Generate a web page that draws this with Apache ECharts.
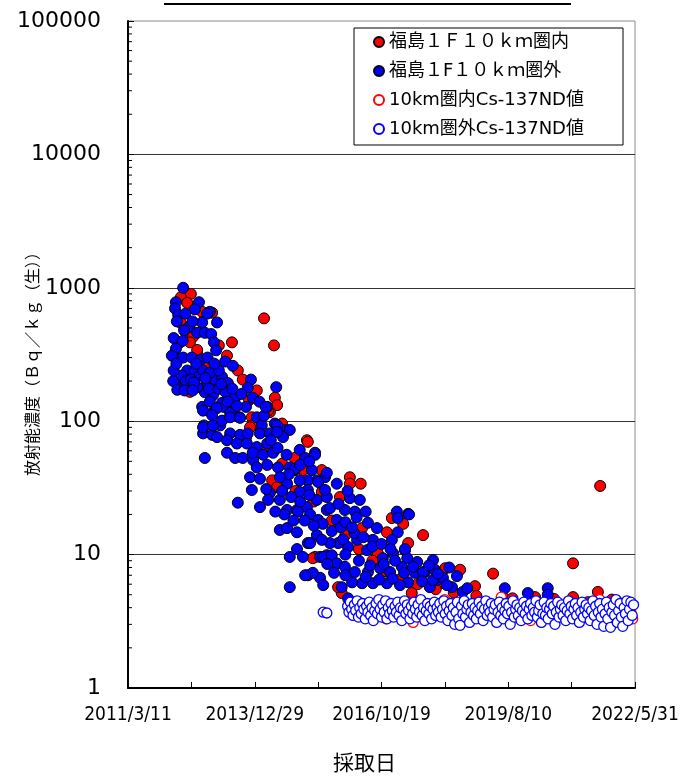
<!DOCTYPE html>
<html>
<head>
<meta charset="utf-8">
<script src="https://cdn.jsdelivr.net/npm/echarts@6/dist/echarts.min.js"></script>
<style>
  html, body { margin: 0; padding: 0; background: #fff; }
  #chart { width: 683px; height: 776px; }
</style>
</head>
<body>
<div id="chart"></div>
<script>
// Sample date as decimal year, concentration in Bq/kg (fresh weight)

// 福島１Ｆ１０ｋｍ圏内 (detected)
const inside10km = [
  [2012.58,900],[2012.36,850],[2012.50,770],[2012.83,660],[2013.05,650],[2012.36,545],[2014.20,590],
  [2014.42,370],[2012.50,460],[2012.63,430],[2013.49,390],[2013.20,370],[2012.56,390],[2013.38,310],
  [2012.74,310],[2012.72,342],[2012.94,255],[2013.62,240],[2013.73,205],[2014.04,170],[2012.52,187],
  [2012.56,166],[2013.87,144],[2014.44,150],[2014.49,132],[2013.93,107],[2014.33,117],[2014.29,120],
  [2013.93,93],[2013.89,90],[2014.60,96],[2015.15,72],[2014.88,53],[2015.06,43],[2015.48,43],
  [2014.38,36],[2014.49,32],[2015.48,29.5],[2015.17,70],[2016.10,38],[2016.34,34],[2016.10,34],
  [2015.88,27],[2017.03,18.8],[2017.28,17],[2016.37,15.8],[2016.92,14.7],[2017.72,14],[2017.39,12.2],
  [2016.72,10.2],[2015.33,9.6],[2015.28,9.4],[2015.92,5.15],[2015.84,5.7],[2017.47,5.15],[2018.09,6.1],
  [2018.21,7.9],[2018.54,7.7],[2018.87,5.8],[2019.27,7.2],[2019.49,4.8],[2020.62,4.65],[2021.04,8.6],
  [2021.04,4.8],[2021.37,4.4],[2021.59,5.25],[2021.64,32.7],[2021.90,4.6],
  [2013.10,200],[2013.50,120],[2013.80,75],[2014.20,60],[2014.60,48],[2014.90,30],[2015.30,25],
  [2015.70,18],[2016.00,14],[2016.30,11],[2016.60,9],[2016.90,7.5],[2017.20,6.5],[2017.60,6],
  [2018.00,5.5],[2018.40,5.2],[2018.90,4.9],[2019.70,4.7],[2020.20,4.8],[2022.00,4.5]
];

// 福島１F１０ｋｍ圏外 (detected)
const outside10km = [
  [2012.41,1000],[2012.25,780],[2012.76,780],[2012.23,700],[2012.67,690],[2013.00,660],[2012.30,625],
  [2012.94,640],[2012.83,550],[2013.16,550],[2012.54,510],[2012.43,480],[2012.72,460],[2012.89,460],
  [2013.03,450],[2013.09,390],[2012.32,385],[2012.25,350],[2013.14,340],[2012.23,300],[2012.41,300],
  [2012.60,300],[2012.80,290],[2013.34,280],[2012.50,240],[2012.67,240],[2013.51,260],[2013.91,205],
  [2014.47,180],[2013.84,178],[2012.30,205],[2012.34,178],[2012.78,220],[2012.94,193],[2013.12,205],
  [2013.27,215],[2013.40,193],[2012.89,165],[2012.72,180],[2013.07,157],[2013.27,137],[2013.56,150],
  [2013.80,128],[2013.31,128],[2012.83,128],[2014.27,128],[2013.05,115],[2013.45,115],[2013.65,107],
  [2014.04,107],[2012.87,93],[2013.07,92],[2013.23,93],[2014.15,93],[2014.44,96],[2013.45,81],
  [2013.67,79],[2013.84,81],[2014.11,81],[2014.33,81],[2014.66,86],[2012.85,81],[2013.05,79],
  [2012.16,310],[2012.19,200],[2012.28,172],[2012.38,220],[2012.47,200],[2012.58,205],[2012.65,195],
  [2012.85,240],[2013.00,230],[2013.20,240],[2012.98,175],[2013.20,175],[2013.35,165],[2013.50,175],
  [2013.00,140],[2013.15,125],[2013.40,140],[2013.60,130],[2013.70,160],[2013.95,150],[2014.10,140],
  [2014.20,110],
  [2012.85,120],[2013.05,111],[2012.85,90],[2013.07,93],[2013.27,101],[2013.45,107],[2013.67,106],
  [2014.24,128],[2014.49,93],[2014.77,86],[2014.62,76],[2014.49,83],[2012.89,53],[2013.16,76],
  [2013.38,72],[2013.60,68],[2013.82,68],[2014.04,64],[2014.27,68],[2013.38,58],[2013.56,53],
  [2013.73,53],[2013.96,51],[2014.18,56],[2014.40,58],[2014.51,45],[2014.27,47],[2014.04,45],
  [2013.89,38],[2014.11,37],[2014.99,61],[2015.11,53],[2015.33,58],[2014.77,45],[2014.88,43],
  [2015.26,43],[2015.55,38],[2015.37,36],[2015.17,36],[2014.99,36],[2014.71,34],[2014.33,29],
  [2013.93,30.5],[2013.62,24.5],[2014.11,22.7],[2014.29,25.7],[2014.55,25.7],[2014.71,21.6],
  [2014.93,21.6],[2015.15,22.7],[2015.37,25.7],[2015.59,27],[2015.59,21.6],[2014.55,15.3],
  [2014.71,15.8],[2014.93,14.7],[2015.17,12.2],[2015.37,14],[2014.93,11],[2014.77,9.6],[2015.06,9.6],
  [2015.44,9.6],[2015.59,9.9],[2014.77,5.7],[2015.17,7.0],[2015.44,6.7],
  [2015.33,56],[2014.88,44],[2015.59,41],[2015.81,34],[2015.40,35],[2015.17,30.5],[2015.55,30.5],
  [2014.99,29.5],[2016.10,26.5],[2016.32,25.7],[2015.66,22.3],[2015.99,21.6],[2016.21,21],
  [2014.95,21],[2015.22,20],[2015.40,18.2],[2015.81,18.2],[2017.14,21],[2017.39,20.2],[2017.16,18.8],
  [2016.50,17.3],[2016.70,15.8],[2017.16,14.7],[2016.26,12.9],[2016.61,12.9],[2017.03,12.9],
  [2017.32,10.8],[2017.94,9.1],[2017.59,8.8],[2017.37,9.4],[2017.06,10.2],[2016.83,9.4],[2016.48,10.8],
  [2016.06,11.4],[2015.84,12.2],[2015.66,12.2],[2015.48,12.9],[2015.22,12.2],[2015.51,9.6],
  [2015.70,9.9],[2015.81,8.6],[2015.99,8.1],[2016.21,7.4],[2016.50,7.4],[2016.77,7.9],[2016.99,7.4],
  [2017.25,8.1],[2017.54,7.3],[2017.76,7.4],[2017.98,7.7],[2017.39,6.2],[2016.92,6.1],[2016.61,6.1],
  [2016.37,6.1],[2016.15,6.2],[2015.92,5.7],[2015.51,5.9],[2015.28,7.3],[2015.11,7.0],[2017.87,5.7],
  [2018.03,6.45],
  [2017.41,20],[2017.32,11],[2018.47,6.9],[2018.16,6.7],[2018.36,5.7],[2018.60,5.25],[2019.53,5.6],
  [2020.04,5.15],[2020.48,5.6],[2020.48,5.0],[2017.21,5.9],[2017.50,8.1],[2017.72,7.4],[2017.94,6.45],
  [2016.06,4.7],
  [2015.70,15],[2015.90,16],[2016.00,17.5],[2016.20,14.5],[2016.40,13.5],[2016.60,11.5],[2016.80,12],
  [2017.00,11],[2016.00,10],[2016.30,9],[2016.55,8.3],[2016.85,8.5],[2017.10,9],[2017.30,7.3],
  [2017.70,6.3],[2017.05,6.6],[2016.75,6.5],[2016.45,6.8],[2016.00,7],[2015.75,7.3],[2015.60,8.5],
  [2015.95,13],[2016.15,16],[2015.85,24],[2016.05,30],[2016.25,19],[2016.45,21],[2015.50,17],
  [2015.30,16.5],[2015.10,18],[2014.85,18],[2014.65,20],[2014.45,21],[2014.25,31],[2014.60,30],
  [2014.80,27],[2015.00,25],[2015.20,28],[2015.00,47],[2015.20,50],[2014.70,56],[2014.50,63],
  [2014.35,72],[2013.95,58],[2014.75,40],[2014.55,38],
  [2017.85,8.3],[2018.05,7.2],[2018.25,5.9],[2018.70,5.6],[2018.30,8.0],
  [2012.20,420],[2012.27,560],[2012.46,640],[2012.62,560],[2012.40,400],[2012.20,240],[2012.26,270],
  [2012.44,170],[2012.62,170],[2012.70,270],[2012.95,300],[2013.10,270],[2013.25,190],[2012.90,210]
];

// 10km圏内Cs-137ND値 (detection limit, not detected)
const insideND = [
  [2016.30,4.4],[2016.90,3.3],[2017.50,3.1],[2018.20,4.6],[2018.54,3.0],[2019.45,4.8],[2020.10,3.2],
  [2020.60,3.2],[2021.63,4.6],[2021.95,3.1],[2022.32,3.7],[2022.36,3.3]
];

// 10km圏外Cs-137ND値 (detection limit, not detected)
const outsideND = [
  [2015.51,3.7],[2015.59,3.65],
  [2016.05,4.1],[2016.08,3.7],[2016.11,4.4],[2016.14,3.9],[2016.17,3.5],[2016.20,4.2],[2016.23,3.8],
  [2016.26,4.5],[2016.29,3.4],[2016.32,4.0],[2016.35,3.6],[2016.38,4.3],[2016.41,3.9],[2016.44,3.3],
  [2016.47,4.1],[2016.50,3.7],[2016.53,4.4],[2016.56,3.5],[2016.59,4.0],[2016.62,3.2],[2016.65,3.8],
  [2016.68,4.3],[2016.71,3.6],[2016.74,4.6],[2016.77,3.9],[2016.80,3.4],[2016.83,4.2],[2016.86,3.7],
  [2016.89,4.5],[2016.92,3.3],[2016.95,4.0],[2016.98,3.6],[2017.01,4.3],[2017.04,3.8],[2017.07,3.4],
  [2017.10,4.1],[2017.13,3.7],[2017.16,4.4],[2017.19,3.5],[2017.22,4.0],[2017.25,3.2],[2017.28,3.9],
  [2017.31,4.5],[2017.34,3.6],[2017.37,4.2],[2017.40,3.8],[2017.43,3.3],[2017.46,4.1],[2017.49,3.6],
  [2017.52,4.4],[2017.55,3.9],[2017.58,3.4],[2017.61,4.2],[2017.64,3.7],[2017.67,4.6],[2017.70,3.5],
  [2017.73,4.0],[2017.76,3.2],[2017.79,3.8],[2017.82,4.3],[2017.85,3.6],[2017.88,4.1],[2017.91,3.3],
  [2017.94,3.9],[2017.97,4.4],[2018.00,3.5],[2018.03,4.0],[2018.06,3.7],[2018.09,4.3],[2018.12,3.4],
  [2018.15,3.9],[2018.18,4.5],[2018.21,3.6],[2018.24,4.1],[2018.27,3.2],[2018.30,3.8],[2018.33,4.3],
  [2018.36,3.5],[2018.39,4.0],[2018.42,3.0],[2018.45,3.7],[2018.48,4.4],[2018.51,3.3],[2018.54,2.95],
  [2018.57,4.1],[2018.60,3.6],[2018.63,4.5],[2018.66,3.4],[2018.69,3.9],[2018.72,4.2],[2018.75,3.1],
  [2018.78,3.7],[2018.81,4.3],[2018.84,3.5],[2018.87,4.0],[2018.90,3.3],[2018.93,3.8],[2018.96,4.4],
  [2018.99,3.6],[2019.02,4.1],[2019.05,3.2],[2019.08,3.9],[2019.11,4.5],[2019.14,3.5],[2019.17,4.0],
  [2019.20,3.7],[2019.23,4.3],[2019.26,3.4],[2019.29,3.9],[2019.32,4.2],[2019.35,3.1],[2019.38,3.7],
  [2019.41,4.4],[2019.44,3.5],[2019.47,4.0],[2019.50,3.3],[2019.53,3.8],[2019.56,4.3],[2019.59,3.6],
  [2019.62,4.1],[2019.65,3.0],[2019.68,3.7],[2019.71,4.5],[2019.74,3.4],[2019.77,3.9],[2019.80,4.2],
  [2019.83,3.5],[2019.86,4.0],[2019.89,3.2],[2019.92,3.8],[2019.95,4.4],[2019.98,3.6],[2020.01,4.1],
  [2020.04,3.3],[2020.07,3.9],[2020.10,4.3],[2020.13,3.5],[2020.16,4.0],[2020.19,3.7],[2020.22,4.5],
  [2020.25,3.4],[2020.28,3.8],[2020.31,4.2],[2020.34,3.1],[2020.37,3.6],[2020.40,4.4],[2020.43,3.5],
  [2020.46,4.0],[2020.49,3.3],[2020.52,3.9],[2020.55,4.3],[2020.58,3.6],[2020.61,4.1],[2020.64,3.0],
  [2020.67,3.7],[2020.70,4.4],[2020.73,3.4],[2020.76,3.9],[2020.79,4.2],[2020.82,3.5],[2020.85,4.0],
  [2020.88,3.2],[2020.91,3.8],[2020.94,4.5],[2020.97,3.6],[2021.00,4.1],[2021.03,3.3],[2021.06,3.9],
  [2021.09,4.3],[2021.12,3.5],[2021.15,4.0],[2021.18,3.1],[2021.21,3.7],[2021.24,4.4],[2021.27,3.4],
  [2021.30,3.9],[2021.33,4.2],[2021.36,3.6],[2021.39,4.0],[2021.42,3.2],[2021.45,3.8],[2021.48,4.5],
  [2021.51,3.5],[2021.54,4.1],[2021.57,3.0],[2021.60,3.7],[2021.63,4.3],[2021.66,3.4],[2021.69,3.9],
  [2021.72,2.9],[2021.75,3.6],[2021.78,4.4],[2021.81,3.3],[2021.84,4.0],[2021.87,2.85],[2021.90,3.7],
  [2021.93,4.2],[2021.96,3.5],[2021.99,4.6],[2022.02,3.1],[2022.05,3.8],[2022.08,4.3],[2022.11,3.4],
  [2022.14,2.9],[2022.17,4.0],[2022.20,3.6],[2022.23,4.5],[2022.26,3.2],[2022.29,3.9],[2022.32,4.4],
  [2022.35,3.5],[2022.38,4.2]
];

// Date axis: 2011/3/11 .. 2022/5/31, split into four equal steps
const xTickLabels = ['2011/3/11', '2013/12/29', '2016/10/19', '2019/8/10', '2022/5/31'];
const AXIS_START_YEAR = 2011.189;   // 2011/3/11 as decimal year
const AXIS_SPAN_DAYS = 4099;        // days from 2011/3/11 to 2022/5/31
const TICK_STEP = AXIS_SPAN_DAYS / 4;

const seriesNames = ['福島１Ｆ１０ｋｍ圏内', '福島１F１０ｋｍ圏外', '10km圏内Cs-137ND値', '10km圏外Cs-137ND値'];

// day offset from the axis start
function toAxis(points) {
  return points.map(p => [(p[0] - AXIS_START_YEAR) * 365.25, p[1]]);
}

// minor ticks of the log axis at 2..9 of each decade
const minorTickValues = [];
for (let d = 1; d < 100000; d *= 10) {
  for (let k = 2; k <= 9; k++) minorTickValues.push(k * d);
}

const chart = echarts.init(document.getElementById('chart'));

const filledStyle = (color) => ({ color: color, borderColor: '#000', borderWidth: 1, opacity: 1 });
const hollowStyle = (color) => ({ color: '#fff', borderColor: color, borderWidth: 1.3, opacity: 1 });

chart.setOption({
  animation: false,
  backgroundColor: '#fff',
  grid: {
    left: 128, right: 48, top: 21, bottom: 88,
    containLabel: false, outerBoundsMode: 'none',
    show: true, borderColor: '#8c8c8c', borderWidth: 1, backgroundColor: '#fff'
  },
  legend: {
    data: seriesNames,
    orient: 'vertical',
    left: 373, top: 32,
    padding: 0,
    itemGap: 9,
    itemWidth: 10, itemHeight: 10,
    icon: 'circle',
    textStyle: { fontSize: 18, lineHeight: 20, color: '#000', fontFamily: '"DejaVu Sans", "Noto Sans CJK JP", sans-serif' },
    selectedMode: false
  },
  xAxis: {
    type: 'value',
    min: 0, max: AXIS_SPAN_DAYS, interval: TICK_STEP,
    axisLine: { lineStyle: { color: '#000', width: 2 } },
    axisTick: { inside: true, length: 6, lineStyle: { color: '#000', width: 1 } },
    minorTick: { show: true, splitNumber: 2, length: 6, lineStyle: { color: '#000', width: 1 } },
    splitLine: { show: false },
    axisLabel: {
      margin: 18, fontSize: 19, color: '#000',
      fontFamily: '"DejaVu Sans Condensed", "DejaVu Sans", sans-serif',
      showMinLabel: true, showMaxLabel: true,
      formatter: v => xTickLabels[Math.round(v / TICK_STEP)] || ''
    }
  },
  yAxis: {
    type: 'log', logBase: 10, min: 1, max: 100000,
    axisLine: { show: true, lineStyle: { color: '#000', width: 2 } },
    axisTick: { show: true, inside: true, length: 6, lineStyle: { color: '#000', width: 1 } },
    splitLine: { show: true, showMinLine: false, showMaxLine: false, lineStyle: { color: '#333', width: 1 } },
    axisLabel: {
      margin: 27, fontSize: 22, color: '#000',
      fontFamily: '"DejaVu Sans", sans-serif',
      formatter: v => String(Math.round(v))
    }
  },
  series: [
    {
      name: seriesNames[0], type: 'scatter', symbol: 'circle', symbolSize: 11,
      itemStyle: filledStyle('#ff0000'), data: toAxis(inside10km), z: 2
    },
    {
      name: seriesNames[1], type: 'scatter', symbol: 'circle', symbolSize: 11,
      itemStyle: filledStyle('#0000ff'), data: toAxis(outside10km), z: 2
    },
    {
      name: seriesNames[2], type: 'scatter', symbol: 'circle', symbolSize: 10,
      itemStyle: hollowStyle('#ff0000'), data: toAxis(insideND), z: 2
    },
    {
      name: seriesNames[3], type: 'scatter', symbol: 'circle', symbolSize: 10,
      itemStyle: hollowStyle('#0000ff'), data: toAxis(outsideND), z: 2
    },
    {
      name: 'minorTicks', type: 'custom', silent: true, z: 4, clip: false,
      data: minorTickValues.map(v => [0, v]),
      renderItem: (params, api) => {
        const p = api.coord([api.value(0), api.value(1)]);
        return {
          type: 'line',
          shape: { x1: p[0], y1: p[1], x2: p[0] + 4, y2: p[1] },
          style: { stroke: '#000', lineWidth: 1 }
        };
      }
    }
  ],
  graphic: [
    // underline of the heading above the plot
    { type: 'line', shape: { x1: 164, y1: 4, x2: 571, y2: 4 }, style: { stroke: '#000', lineWidth: 2 } },
    // legend frame
    { type: 'rect', shape: { x: 354, y: 28, width: 269, height: 117 },
      style: { fill: null, stroke: '#000', lineWidth: 1 }, z: 10 },
    // y axis title, rotated along the left edge
    { type: 'text', x: 32, y: 360, rotation: Math.PI / 2,
      style: { text: '放射能濃度（Ｂｑ／ｋｇ（生））', fontSize: 16, fill: '#000',
               align: 'center', verticalAlign: 'middle',
               fontFamily: '"Noto Sans CJK JP", sans-serif' } },
    // x axis title
    { type: 'text', left: 333, top: 752,
      style: { text: '採取日', fontSize: 21, fill: '#000', fontFamily: '"Noto Sans CJK JP", sans-serif' } }
  ]
});
</script>
</body>
</html>
